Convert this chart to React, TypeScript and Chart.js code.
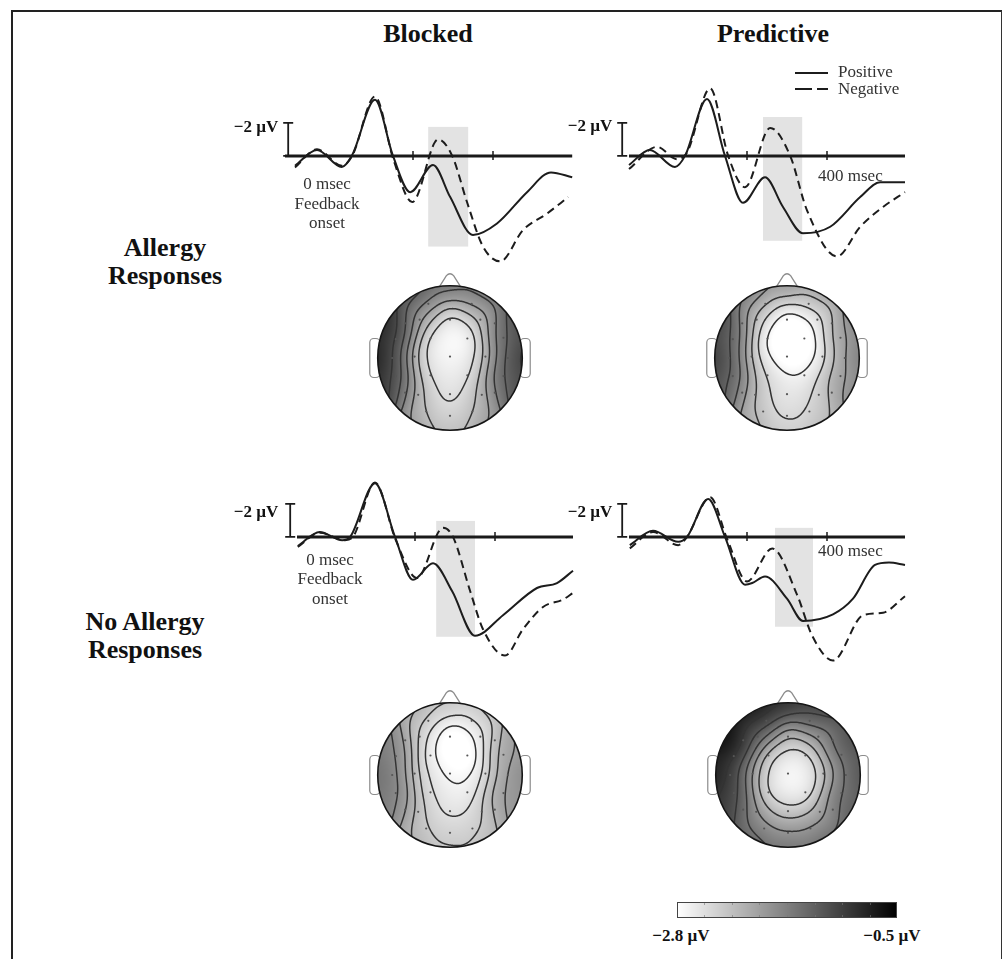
import React, { useEffect, useRef } from "react";
import { Chart, registerables } from "chart.js";
Chart.register(...registerables);

const SERIF = '"Liberation Serif", "Times New Roman", serif';

// ---------------- ERP waveform data (time in msec, amplitude in µV; negative plotted up) ----------------
const timeTicksMs = [200, 400];
const scaleBarUv = -2;
const scaleBarTimeMs = -112;
const zeroLineStartMs = [-120, -95, -95, -95];
const zeroLineEndMs = [598, 595, 595, 595];

const blockedAllergyPosT = [-95, -40, 22, 48, 105, 150, 193, 250, 293, 350, 410, 485, 545, 598];
const blockedAllergyPosV = [0.6, -0.36, 0.67, -0.06, -3.4, 0, 2.2, 0.55, 2.5, 4.8, 4.1, 2.2, 1.0, 1.3];
const blockedAllergyNegT = [-95, -40, 22, 48, 105, 152, 198, 263, 298, 335, 375, 418, 475, 535, 588];
const blockedAllergyNegV = [0.7, -0.4, 0.6, 0, -3.6, 0.3, 2.8, -1.0, 0, 2.8, 5.5, 6.4, 4.5, 3.5, 2.5];

const predictiveAllergyPosT = [-95, -43, 20, 45, 100, 145, 190, 245, 290, 340, 408, 483, 533, 595];
const predictiveAllergyPosV = [0.55, -0.36, 0.67, 0, -3.45, 0, 2.85, 1.3, 3.1, 4.7, 4.3, 2.5, 1.6, 1.6];
const predictiveAllergyNegT = [-95, -25, 25, 50, 108, 153, 195, 258, 308, 350, 425, 483, 540, 595];
const predictiveAllergyNegV = [0.8, -0.55, 0.2, -0.2, -4.1, 0, 1.9, -1.7, 0, 3.3, 6.1, 4.3, 3.1, 2.2];

const blockedNoAllergyPosT = [-93, -38, 18, 38, 100, 150, 195, 245, 293, 350, 420, 505, 555, 595];
const blockedNoAllergyPosV = [0.56, -0.3, 0.2, 0, -3.25, 0, 2.6, 1.6, 3.3, 6.0, 4.75, 3.1, 2.8, 2.05];
const blockedNoAllergyNegT = [-93, -38, 25, 45, 100, 152, 205, 270, 295, 338, 370, 425, 470, 520, 570, 595];
const blockedNoAllergyNegV = [0.6, -0.25, 0.2, 0, -3.3, 0.2, 2.5, -0.55, 0, 3.3, 5.6, 7.2, 5.6, 4.25, 3.8, 3.4];

const predictiveNoAllergyPosT = [-93, -35, 28, 50, 103, 145, 195, 213, 245, 300, 340, 415, 465, 520, 555, 595];
const predictiveNoAllergyPosV = [0.5, -0.37, 0.3, 0, -2.3, 0, 2.9, 2.8, 2.4, 3.75, 5.1, 4.7, 3.75, 1.7, 1.55, 1.7];
const predictiveNoAllergyNegT = [-93, -35, 28, 50, 108, 150, 200, 263, 325, 363, 415, 490, 540, 595];
const predictiveNoAllergyNegV = [0.7, -0.3, 0.5, 0, -2.4, 0.1, 2.7, 0.7, 3.5, 6.0, 7.5, 4.75, 4.6, 3.6];

// analysis windows (grey boxes)
const shadeStartMs = [238, 240, 253, 270];
const shadeEndMs = [338, 338, 350, 365];
const shadeTopUv = [-1.76, -2.36, -0.97, -0.55];
const shadeBottomUv = [5.5, 5.15, 6.06, 5.45];

// ---------------- Topographic map data ----------------
const electrodeNames = ["Fp1", "Fp2", "F7", "F3", "Fz", "F4", "F8", "FT7", "FC3", "FC4", "FT8", "T7", "C3", "Cz", "C4", "T8", "TP7", "CP3", "CP4", "TP8", "P7", "P3", "Pz", "P4", "P8", "O1", "Oz", "O2"];
const electrodeX = [-0.3, 0.3, -0.62, -0.42, 0, 0.42, 0.62, -0.75, -0.27, 0.24, 0.74, -0.8, -0.49, 0, 0.49, 0.8, -0.75, -0.27, 0.24, 0.74, -0.62, -0.44, 0, 0.44, 0.62, -0.33, 0, 0.31];
const electrodeY = [0.75, 0.75, 0.48, 0.53, 0.53, 0.53, 0.48, 0.26, 0.27, 0.27, 0.28, 0, 0.02, 0.02, 0.02, 0, -0.25, -0.24, -0.24, -0.25, -0.48, -0.51, -0.5, -0.51, -0.48, -0.74, -0.8, -0.74];
const rimAnglesDeg = [0, 30, 60, 90, 120, 150, 180, 210, 240, 270, 300, 330];

//                          Fp1   Fp2    F7    F3     Fz    F4    F8    FT7   FC3    FC4    FT8    T7    C3     Cz    C4    T8    TP7    CP3   CP4   TP8    P7     P3     Pz    P4     P8     O1    Oz    O2
const topoBlockedAllergy = [-1.8, -1.85, -1.2, -2.25, -2.75, -2.6, -1.6, -1.1, -2.75, -2.85, -1.45, -1.1, -2.45, -2.75, -2.4, -1.3, -1.15, -2.6, -2.6, -1.35, -1.55, -2.35, -2.6, -2.35, -1.6, -2.4, -2.5, -2.35];
const rimBlockedAllergy = [-1.5, -1.3, -1.0, -0.9, -1.05, -1.75, -2.1, -1.75, -0.75, -0.6, -0.65, -1.0];
const topoPredictiveAllergy = [-2.3, -2.35, -1.6, -2.6, -3.0, -2.95, -2.1, -1.4, -2.95, -3.05, -2.0, -1.3, -2.45, -2.95, -2.75, -1.95, -1.35, -2.5, -2.7, -2.0, -1.7, -2.45, -2.6, -2.5, -2.05, -2.45, -2.55, -2.5];
const rimPredictiveAllergy = [-1.8, -1.7, -1.5, -1.4, -1.55, -2.05, -2.25, -1.85, -1.1, -0.85, -0.9, -1.3];
const topoBlockedNoAllergy = [-2.45, -2.6, -1.8, -2.65, -3.0, -2.9, -2.1, -1.7, -2.75, -3.0, -2.0, -1.6, -2.35, -2.75, -2.6, -1.9, -1.65, -2.55, -2.7, -1.9, -1.75, -2.45, -2.6, -2.55, -1.95, -2.4, -2.45, -2.45];
const rimBlockedNoAllergy = [-2.25, -2.05, -1.8, -1.65, -1.75, -2.1, -2.2, -2.0, -1.55, -1.45, -1.55, -1.9];
const topoPredictiveNoAllergy = [-1.0, -1.25, -0.75, -1.65, -2.3, -2.15, -1.4, -0.95, -2.55, -2.7, -1.5, -1.0, -2.15, -2.8, -2.5, -1.5, -1.1, -2.65, -2.75, -1.55, -1.25, -2.15, -2.45, -2.3, -1.5, -1.8, -1.9, -1.85];
const rimPredictiveNoAllergy = [-0.9, -0.95, -1.05, -1.1, -1.2, -1.3, -1.35, -1.2, -0.9, -0.65, -0.45, -0.55];

const colorScaleMin = -2.8; // white
const colorScaleMax = -0.5; // black
const contourCount = 6;
const colorbarTicks = [-2.5125, -2.225, -1.9375, -1.65, -1.3625, -1.075, -0.7875];

// ---------------- components ----------------
type Series = { t: number[]; v: number[] };

function ErpChart(props: { left: number; top: number; pos: Series; neg: Series; idx: number }) {
  const ref = useRef<HTMLCanvasElement>(null);
  useEffect(() => {
    const { pos, neg, idx } = props;
    const decor = {
      id: "erpDecor",
      beforeDatasetsDraw(chart: any) {
        const { ctx, scales } = chart;
        const x = scales.x, y = scales.y;
        const x0 = x.getPixelForValue(shadeStartMs[idx]);
        const x1 = x.getPixelForValue(shadeEndMs[idx]);
        const y0 = y.getPixelForValue(shadeTopUv[idx]);
        const y1 = y.getPixelForValue(shadeBottomUv[idx]);
        ctx.save();
        ctx.fillStyle = "#e3e3e3";
        ctx.fillRect(Math.min(x0, x1), Math.min(y0, y1), Math.abs(x1 - x0), Math.abs(y1 - y0));
        ctx.restore();
      },
      afterDatasetsDraw(chart: any) {
        const { ctx, scales } = chart;
        const x = scales.x, y = scales.y;
        const yz = y.getPixelForValue(0);
        ctx.save();
        ctx.strokeStyle = "#1a1a1a";
        ctx.lineWidth = 1.5;
        for (const t of timeTicksMs) {
          const px = x.getPixelForValue(t);
          ctx.beginPath();
          ctx.moveTo(px, yz - 5);
          ctx.lineTo(px, yz + 4);
          ctx.stroke();
        }
        const bx = x.getPixelForValue(scaleBarTimeMs);
        const by = y.getPixelForValue(scaleBarUv);
        ctx.lineWidth = 1.8;
        ctx.beginPath();
        ctx.moveTo(bx, yz);
        ctx.lineTo(bx, by);
        ctx.moveTo(bx - 5, by);
        ctx.lineTo(bx + 5, by);
        ctx.moveTo(bx - 5, yz);
        ctx.lineTo(bx + 5, yz);
        ctx.stroke();
        ctx.restore();
      },
    };
    const chart = new Chart(ref.current as HTMLCanvasElement, {
      type: "line",
      data: {
        datasets: [
          {
            data: [{ x: zeroLineStartMs[idx], y: 0 }, { x: zeroLineEndMs[idx], y: 0 }],
            borderColor: "#1a1a1a", borderWidth: 3, pointRadius: 0, tension: 0,
          },
          {
            data: pos.t.map((t, i) => ({ x: t, y: pos.v[i] })),
            borderColor: "#1c1c1c", borderWidth: 2, pointRadius: 0, cubicInterpolationMode: "monotone",
          },
          {
            data: neg.t.map((t, i) => ({ x: t, y: neg.v[i] })),
            borderColor: "#1c1c1c", borderWidth: 2, pointRadius: 0, borderDash: [8, 5], cubicInterpolationMode: "monotone",
          },
        ] as any,
      },
      options: {
        animation: false, responsive: false, events: [],
        layout: { padding: 0 },
        plugins: { legend: { display: false }, tooltip: { enabled: false } },
        scales: {
          x: { type: "linear", min: -140, max: 620, display: false },
          y: { type: "linear", min: -6, max: 8.5, reverse: true, display: false },
        },
      },
      plugins: [decor],
    });
    return () => chart.destroy();
  }, []);
  return (
    <canvas ref={ref} width={304} height={239}
      style={{ position: "absolute", left: props.left, top: props.top }} />
  );
}

function Topomap(props: { cx: number; cy: number; values: number[]; rim: number[] }) {
  const ref = useRef<HTMLCanvasElement>(null);
  useEffect(() => {
    const { values, rim } = props;
    const ptsX: number[] = [], ptsY: number[] = [], ptsV: number[] = [];
    electrodeX.forEach((ex, i) => { ptsX.push(ex); ptsY.push(electrodeY[i]); ptsV.push(values[i]); });
    rimAnglesDeg.forEach((a, i) => {
      const r = (a * Math.PI) / 180;
      ptsX.push(Math.sin(r)); ptsY.push(Math.cos(r)); ptsV.push(rim[i]);
    });
    const topo = {
      id: "topo",
      beforeDatasetsDraw(chart: any) {
        const { ctx, scales } = chart;
        const x = scales.x, y = scales.y;
        const P = (u: number, v: number): [number, number] => [x.getPixelForValue(u), y.getPixelForValue(v)];
        const [cx, cy] = P(0, 0);
        const R = x.getPixelForValue(1) - cx;
        ctx.save();
        // nose
        ctx.beginPath();
        ctx.moveTo(...P(-0.15, 0.98));
        ctx.lineTo(...P(-0.05, 1.14));
        ctx.quadraticCurveTo(...P(0, 1.19), ...P(0.05, 1.14));
        ctx.lineTo(...P(0.15, 0.98));
        ctx.fillStyle = "#fff"; ctx.fill();
        ctx.strokeStyle = "#8c8c8c"; ctx.lineWidth = 1.3; ctx.stroke();
        // ears
        for (const s of [-1, 1]) {
          const [ax, ay] = P(s * 0.97, 0.27);
          const [bx, by] = P(s * 1.11, -0.27);
          const l = Math.min(ax, bx), t = Math.min(ay, by);
          const w = Math.abs(bx - ax), h = Math.abs(by - ay);
          ctx.beginPath();
          (ctx as any).roundRect(l, t, w, h, 4);
          ctx.fillStyle = "#fff"; ctx.fill();
          ctx.strokeStyle = "#8c8c8c"; ctx.lineWidth = 1.2; ctx.stroke();
        }
        // interpolated field on a pixel grid
        const size = Math.ceil(2 * R) + 6;
        const ox = Math.floor(cx - R) - 3, oy = Math.floor(cy - R) - 3;
        const field = new Float32Array(size * size);
        const sig = 0.2, inv = 1 / (2 * sig * sig);
        let fmin = Infinity, fmax = -Infinity;
        for (let j = 0; j < size; j++) {
          for (let i = 0; i < size; i++) {
            const u = (ox + i + 0.5 - cx) / R, v = (cy - (oy + j + 0.5)) / R;
            let sw = 0, sv = 0;
            for (let k = 0; k < ptsX.length; k++) {
              const dx = u - ptsX[k], dy = v - ptsY[k];
              const w = Math.exp(-(dx * dx + dy * dy) * inv) + 1e-12;
              sw += w; sv += w * ptsV[k];
            }
            const val = sv / sw;
            field[j * size + i] = val;
            if (u * u + v * v <= 1.0) {
              if (val < fmin) fmin = val;
              if (val > fmax) fmax = val;
            }
          }
        }
        const off = document.createElement("canvas");
        off.width = size; off.height = size;
        const octx = off.getContext("2d") as CanvasRenderingContext2D;
        const img = octx.createImageData(size, size);
        for (let p = 0; p < size * size; p++) {
          let g = (255 * (colorScaleMax - field[p])) / (colorScaleMax - colorScaleMin);
          g = Math.max(0, Math.min(255, g));
          img.data[p * 4] = g; img.data[p * 4 + 1] = g; img.data[p * 4 + 2] = g; img.data[p * 4 + 3] = 255;
        }
        octx.putImageData(img, 0, 0);

        ctx.save();
        ctx.beginPath();
        ctx.arc(cx, cy, R, 0, Math.PI * 2);
        ctx.clip();
        ctx.drawImage(off, ox, oy);

        // contour lines (marching squares), levels spread evenly over this map's range
        const levels: number[] = [];
        for (let k = 1; k <= contourCount; k++) levels.push(fmin + ((fmax - fmin) * k) / (contourCount + 1));
        ctx.beginPath();
        const px0 = ox + 0.5, py0 = oy + 0.5;
        for (const L of levels) {
          for (let j = 0; j < size - 1; j++) {
            for (let i = 0; i < size - 1; i++) {
              const a = field[j * size + i], b = field[j * size + i + 1];
              const c = field[(j + 1) * size + i + 1], d = field[(j + 1) * size + i];
              const pts: [number, number][] = [];
              if ((a > L) !== (b > L)) pts.push([i + (L - a) / (b - a), j]);
              if ((b > L) !== (c > L)) pts.push([i + 1, j + (L - b) / (c - b)]);
              if ((d > L) !== (c > L)) pts.push([i + (L - d) / (c - d), j + 1]);
              if ((a > L) !== (d > L)) pts.push([i, j + (L - a) / (d - a)]);
              if (pts.length === 2) {
                ctx.moveTo(px0 + pts[0][0], py0 + pts[0][1]);
                ctx.lineTo(px0 + pts[1][0], py0 + pts[1][1]);
              } else if (pts.length === 4) {
                ctx.moveTo(px0 + pts[0][0], py0 + pts[0][1]);
                ctx.lineTo(px0 + pts[1][0], py0 + pts[1][1]);
                ctx.moveTo(px0 + pts[2][0], py0 + pts[2][1]);
                ctx.lineTo(px0 + pts[3][0], py0 + pts[3][1]);
              }
            }
          }
        }
        ctx.strokeStyle = "#333333";
        ctx.lineWidth = 1.5;
        ctx.lineCap = "round";
        ctx.stroke();
        ctx.restore();

        ctx.beginPath();
        ctx.arc(cx, cy, R, 0, Math.PI * 2);
        ctx.strokeStyle = "#151515"; ctx.lineWidth = 1.6; ctx.stroke();
        ctx.restore();
      },
    };
    const chart = new Chart(ref.current as HTMLCanvasElement, {
      type: "scatter",
      data: {
        labels: electrodeNames,
        datasets: [{
          data: electrodeX.map((ex, i) => ({ x: ex, y: electrodeY[i] })),
          pointRadius: 1.1, pointBackgroundColor: "#555", pointBorderWidth: 0,
        }],
      },
      options: {
        animation: false, responsive: false, events: [],
        layout: { padding: 0 },
        plugins: { legend: { display: false }, tooltip: { enabled: false } },
        scales: {
          x: { type: "linear", min: -1.4667, max: 1.4667, display: false },
          y: { type: "linear", min: -1.4667, max: 1.4667, display: false },
        },
      },
      plugins: [topo],
    });
    return () => chart.destroy();
  }, []);
  return (
    <canvas ref={ref} width={220} height={220}
      style={{ position: "absolute", left: props.cx - 110, top: props.cy - 110 }} />
  );
}

function ColorBar() {
  const ref = useRef<HTMLCanvasElement>(null);
  useEffect(() => {
    const bar = {
      id: "bar",
      beforeDatasetsDraw(chart: any) {
        const { ctx, chartArea, scales } = chart;
        const x = scales.x;
        const x0 = x.getPixelForValue(colorScaleMin), x1 = x.getPixelForValue(colorScaleMax);
        const g = ctx.createLinearGradient(x0, 0, x1, 0);
        g.addColorStop(0, "#ffffff");
        g.addColorStop(1, "#000000");
        ctx.save();
        ctx.fillStyle = g;
        ctx.fillRect(x0, chartArea.top, x1 - x0, chartArea.bottom - chartArea.top);
        ctx.strokeStyle = "rgba(120,120,120,0.6)";
        ctx.lineWidth = 1;
        for (const t of colorbarTicks) {
          const px = Math.round(x.getPixelForValue(t)) + 0.5;
          ctx.beginPath();
          ctx.moveTo(px, chartArea.top); ctx.lineTo(px, chartArea.top + 3);
          ctx.moveTo(px, chartArea.bottom); ctx.lineTo(px, chartArea.bottom - 3);
          ctx.stroke();
        }
        ctx.strokeStyle = "#444";
        ctx.strokeRect(x0 + 0.5, chartArea.top + 0.5, x1 - x0 - 1, chartArea.bottom - chartArea.top - 1);
        ctx.restore();
      },
    };
    const chart = new Chart(ref.current as HTMLCanvasElement, {
      type: "scatter",
      data: { datasets: [{ data: [] }] },
      options: {
        animation: false, responsive: false, events: [],
        layout: { padding: 2 },
        plugins: { legend: { display: false }, tooltip: { enabled: false } },
        scales: {
          x: { type: "linear", min: colorScaleMin, max: colorScaleMax, display: false },
          y: { type: "linear", min: 0, max: 1, display: false },
        },
      },
      plugins: [bar],
    });
    return () => chart.destroy();
  }, []);
  return <canvas ref={ref} width={224} height={20} style={{ position: "absolute", left: 675, top: 900 }} />;
}

function Txt(props: { x: number; b: number; size: number; bold?: boolean; anchor?: "start" | "middle" | "end"; color?: string; children: React.ReactNode }) {
  const { x, b, size, bold, anchor = "middle", color = "#111" } = props;
  const top = b - 0.8375 * size;
  const transform = anchor === "middle" ? "translateX(-50%)" : anchor === "end" ? "translateX(-100%)" : undefined;
  return (
    <div style={{
      position: "absolute", left: x, top, fontSize: size, lineHeight: `${size}px`,
      fontWeight: bold ? 700 : 400, whiteSpace: "nowrap", transform, color, fontFamily: SERIF,
    }}>{props.children}</div>
  );
}

export default function App() {
  return (
    <div style={{ position: "fixed", left: 0, top: 0, width: 1003, height: 959, overflow: "hidden", background: "#fff" }}>
      <div style={{
        position: "absolute", left: 11, top: 10, width: 991, height: 970, boxSizing: "border-box",
        borderTop: "2px solid #222", borderLeft: "2.5px solid #222", borderRight: "1.5px solid #333",
      }} />

      <Txt x={428} b={43} size={26} bold>Blocked</Txt>
      <Txt x={773} b={43} size={26} bold>Predictive</Txt>
      <Txt x={165} b={257} size={26} bold>Allergy</Txt>
      <Txt x={165} b={285} size={26} bold>Responses</Txt>
      <Txt x={145} b={631} size={26} bold>No Allergy</Txt>
      <Txt x={145} b={659} size={26} bold>Responses</Txt>

      <ErpChart left={277} top={57} idx={0}
        pos={{ t: blockedAllergyPosT, v: blockedAllergyPosV }} neg={{ t: blockedAllergyNegT, v: blockedAllergyNegV }} />
      <ErpChart left={611} top={57} idx={1}
        pos={{ t: predictiveAllergyPosT, v: predictiveAllergyPosV }} neg={{ t: predictiveAllergyNegT, v: predictiveAllergyNegV }} />
      <ErpChart left={279} top={438} idx={2}
        pos={{ t: blockedNoAllergyPosT, v: blockedNoAllergyPosV }} neg={{ t: blockedNoAllergyNegT, v: blockedNoAllergyNegV }} />
      <ErpChart left={611} top={438} idx={3}
        pos={{ t: predictiveNoAllergyPosT, v: predictiveNoAllergyPosV }} neg={{ t: predictiveNoAllergyNegT, v: predictiveNoAllergyNegV }} />

      <Txt x={256} b={132} size={17} bold>−2 µV</Txt>
      <Txt x={590} b={131} size={17} bold>−2 µV</Txt>
      <Txt x={256} b={517} size={17} bold>−2 µV</Txt>
      <Txt x={590} b={517} size={17} bold>−2 µV</Txt>

      <Txt x={327} b={189} size={17} color="#333">0 msec</Txt>
      <Txt x={327} b={209} size={17} color="#333">Feedback</Txt>
      <Txt x={327} b={228} size={17} color="#333">onset</Txt>
      <Txt x={330} b={565} size={17} color="#333">0 msec</Txt>
      <Txt x={330} b={584} size={17} color="#333">Feedback</Txt>
      <Txt x={330} b={604} size={17} color="#333">onset</Txt>

      <Txt x={818} b={181} size={17} anchor="start" color="#333">400 msec</Txt>
      <Txt x={818} b={556} size={17} anchor="start" color="#333">400 msec</Txt>

      <svg width={40} height={30} style={{ position: "absolute", left: 792, top: 64 }}>
        <line x1={3} y1={9} x2={36} y2={9} stroke="#1c1c1c" strokeWidth={2} />
        <line x1={3} y1={25} x2={36} y2={25} stroke="#1c1c1c" strokeWidth={2} strokeDasharray="17 5" />
      </svg>
      <Txt x={838} b={77} size={17} anchor="start" color="#333">Positive</Txt>
      <Txt x={838} b={94} size={17} anchor="start" color="#333">Negative</Txt>

      <Topomap cx={450} cy={358} values={topoBlockedAllergy} rim={rimBlockedAllergy} />
      <Topomap cx={787} cy={358} values={topoPredictiveAllergy} rim={rimPredictiveAllergy} />
      <Topomap cx={450} cy={775} values={topoBlockedNoAllergy} rim={rimBlockedNoAllergy} />
      <Topomap cx={788} cy={775} values={topoPredictiveNoAllergy} rim={rimPredictiveNoAllergy} />

      <ColorBar />
      <Txt x={681} b={941} size={17} bold>−2.8 µV</Txt>
      <Txt x={892} b={941} size={17} bold>−0.5 µV</Txt>
    </div>
  );
}
